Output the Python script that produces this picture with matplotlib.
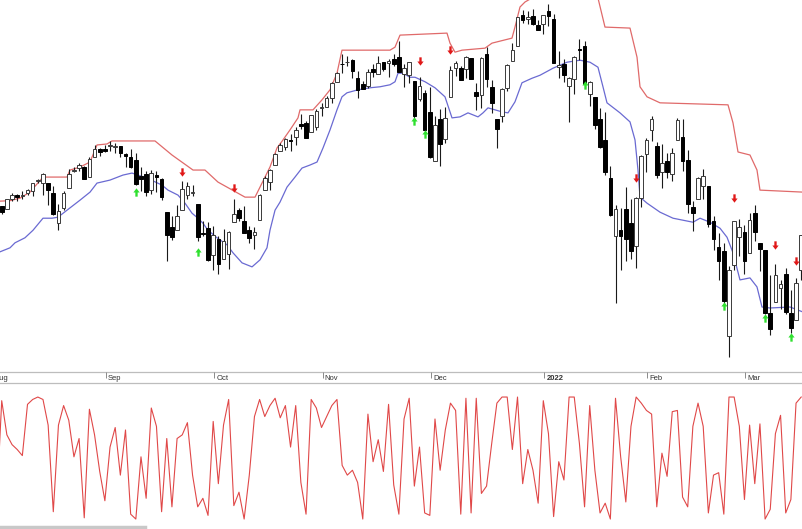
import numpy as np
import pandas as pd
import matplotlib
matplotlib.use("Agg")
import matplotlib.pyplot as plt
from matplotlib.path import Path

# trading days, Aug 2 2021 .. Mar 16 2022 (US market holidays removed)
holidays = ["2021-09-06", "2021-11-25", "2021-12-24", "2022-01-17", "2022-02-21"]
dates = pd.bdate_range("2021-08-02", "2022-03-16")
dates = dates[~dates.isin(pd.to_datetime(holidays))]

opens = [
    # Aug
    4406.86, 4392.74, 4415.95, 4408.86, 4429.07, 4437.77, 4435.79, 4442.18, 4446.08, 4464.84, 4461.65,
    4462.12, 4440.94, 4382.44, 4410.56, 4450.29, 4484.40, 4490.45, 4493.75, 4474.10, 4513.76, 4529.75,
    # Sep
    4528.80, 4534.48, 4532.42, 4535.38, 4518.09, 4513.02, 4506.92, 4474.81, 4479.33, 4447.49, 4477.09,
    4469.74, 4402.95, 4374.45, 4367.43, 4406.75, 4438.04, 4442.12, 4419.54, 4362.41, 4370.67,
    # Oct
    4317.16, 4348.84, 4309.87, 4319.57, 4383.73, 4406.51, 4385.44, 4368.31, 4358.01, 4386.75, 4447.69,
    4463.72, 4497.34, 4524.42, 4532.24, 4546.12, 4553.69, 4578.69, 4580.22, 4562.84, 4572.87,
    # Nov
    4610.62, 4613.34, 4630.65, 4662.93, 4699.26, 4701.48, 4707.25, 4670.26, 4659.39, 4655.24, 4689.30,
    4679.42, 4701.50, 4700.72, 4708.44, 4712.00, 4678.48, 4675.78, 4664.63, 4628.75, 4640.25,
    # Dec
    4602.82, 4504.73, 4589.49, 4548.37, 4631.97, 4690.86, 4691.00, 4687.64, 4710.30, 4642.99, 4636.46,
    4719.13, 4652.50, 4587.90, 4594.96, 4650.36, 4703.96, 4733.99, 4795.49, 4788.64, 4794.23, 4775.21,
    # Jan
    4778.14, 4804.51, 4787.99, 4693.39, 4697.66, 4655.34, 4669.14, 4728.59, 4733.56, 4637.99, 4632.24,
    4588.03, 4547.35, 4471.38, 4356.32, 4366.64, 4408.43, 4380.58, 4336.19, 4431.79,
    # Feb
    4519.57, 4566.39, 4535.41, 4482.79, 4505.75, 4480.02, 4547.00, 4553.24, 4506.27, 4412.61, 4429.28,
    4455.75, 4456.06, 4384.57, 4332.74, 4324.93, 4155.77, 4298.38, 4354.17,
    # Mar
    4363.14, 4322.56, 4401.31, 4342.12, 4327.01, 4202.66, 4223.10, 4252.55, 4279.50, 4202.75, 4188.82,
    4288.14,
]
highs = [
    4422.18, 4423.79, 4416.17, 4429.76, 4440.82, 4439.39, 4445.21, 4449.44, 4461.77, 4468.37, 4480.26,
    4462.12, 4454.32, 4418.61, 4444.35, 4489.88, 4492.81, 4501.71, 4495.90, 4513.33, 4537.36, 4531.39,
    4537.11, 4545.85, 4541.45, 4535.38, 4521.79, 4529.90, 4520.47, 4492.99, 4485.68, 4486.87, 4485.87,
    4471.52, 4402.95, 4394.87, 4416.75, 4465.40, 4463.12, 4457.30, 4419.54, 4385.57, 4382.55,
    4375.19, 4355.51, 4369.23, 4365.57, 4429.97, 4412.02, 4415.88, 4374.89, 4372.87, 4439.73, 4475.82,
    4488.75, 4520.40, 4540.87, 4551.44, 4559.67, 4572.62, 4598.53, 4584.57, 4597.55, 4608.08,
    4620.34, 4635.15, 4663.46, 4683.00, 4718.50, 4714.92, 4708.53, 4684.85, 4664.55, 4688.47, 4697.42,
    4714.95, 4701.50, 4708.80, 4717.75, 4743.83, 4699.39, 4702.87, 4664.63, 4672.95, 4646.02,
    4652.94, 4595.46, 4608.03, 4612.60, 4694.04, 4705.06, 4695.26, 4713.57, 4710.30, 4660.47, 4712.60,
    4731.99, 4666.70, 4587.90, 4651.14, 4697.67, 4740.74, 4791.49, 4807.02, 4804.06, 4808.93, 4786.83,
    4796.64, 4818.62, 4797.70, 4725.01, 4707.95, 4673.02, 4714.13, 4748.83, 4744.13, 4665.13, 4632.24,
    4611.55, 4602.11, 4494.52, 4417.35, 4411.01, 4453.23, 4428.74, 4432.72, 4516.89,
    4550.49, 4595.31, 4542.88, 4539.66, 4521.86, 4531.32, 4590.03, 4588.92, 4526.33, 4426.22, 4472.77,
    4489.55, 4456.06, 4394.60, 4362.12, 4341.51, 4294.73, 4385.34, 4388.84,
    4378.45, 4401.48, 4416.78, 4342.12, 4327.01, 4276.94, 4299.40, 4268.28, 4291.01, 4247.57, 4271.05,
    4357.86,
]
lows = [
    4384.81, 4373.00, 4400.23, 4408.86, 4425.82, 4424.74, 4430.03, 4436.42, 4435.96, 4460.82, 4437.66,
    4417.83, 4397.59, 4367.73, 4406.80, 4450.29, 4482.28, 4485.66, 4468.99, 4474.10, 4513.76, 4515.80,
    4522.02, 4524.66, 4521.65, 4513.00, 4493.95, 4492.07, 4457.66, 4445.70, 4435.46, 4438.37, 4443.80,
    4427.76, 4305.91, 4347.96, 4367.43, 4406.75, 4430.27, 4436.19, 4346.33, 4355.08, 4306.24,
    4288.52, 4278.94, 4309.87, 4290.49, 4383.73, 4386.22, 4360.59, 4342.09, 4329.92, 4386.75, 4447.69,
    4447.47, 4496.41, 4524.40, 4526.89, 4524.00, 4537.36, 4569.17, 4551.66, 4562.84, 4567.59,
    4595.06, 4613.34, 4621.19, 4662.59, 4681.32, 4694.39, 4670.87, 4630.86, 4648.31, 4650.77, 4672.86,
    4679.42, 4684.41, 4672.78, 4694.22, 4682.17, 4652.66, 4659.89, 4585.43, 4625.26, 4560.00,
    4510.27, 4504.73, 4495.12, 4540.51, 4631.97, 4674.52, 4665.98, 4670.24, 4667.60, 4606.52, 4611.22,
    4651.89, 4600.22, 4531.10, 4583.16, 4645.53, 4703.96, 4733.99, 4780.04, 4778.08, 4775.33, 4765.75,
    4758.17, 4774.27, 4699.44, 4671.26, 4662.74, 4582.24, 4638.27, 4706.71, 4650.29, 4614.75, 4568.70,
    4530.20, 4477.95, 4395.34, 4222.62, 4287.11, 4304.80, 4309.50, 4292.46, 4414.02,
    4483.53, 4544.32, 4470.39, 4451.50, 4471.47, 4465.40, 4547.00, 4484.31, 4401.41, 4364.84, 4429.28,
    4429.68, 4373.81, 4327.22, 4267.11, 4221.51, 4114.65, 4286.83, 4315.12,
    4279.54, 4322.56, 4345.56, 4284.98, 4199.85, 4157.87, 4223.10, 4209.80, 4200.49, 4161.72, 4187.90,
    4267.66,
]
closes = [
    4387.16, 4423.15, 4402.66, 4429.10, 4436.52, 4432.35, 4436.75, 4447.70, 4460.83, 4468.00, 4479.71,
    4448.08, 4400.27, 4405.80, 4441.67, 4479.53, 4486.23, 4496.19, 4469.91, 4509.37, 4528.79, 4522.68,
    4524.09, 4536.95, 4535.43, 4520.03, 4514.07, 4493.28, 4458.58, 4468.73, 4443.05, 4480.70, 4473.75,
    4432.99, 4357.73, 4354.19, 4395.64, 4448.98, 4455.48, 4443.11, 4352.63, 4359.46, 4307.54,
    4357.04, 4300.46, 4345.72, 4363.55, 4399.76, 4391.34, 4361.19, 4350.65, 4363.80, 4438.26, 4471.37,
    4486.46, 4519.63, 4536.19, 4549.78, 4544.90, 4566.48, 4574.79, 4551.68, 4596.42, 4605.38,
    4613.67, 4630.65, 4660.57, 4680.06, 4697.53, 4701.70, 4685.25, 4646.71, 4649.27, 4682.85, 4682.80,
    4700.90, 4688.67, 4704.54, 4697.96, 4682.94, 4690.70, 4701.46, 4594.62, 4655.27, 4567.00,
    4513.04, 4577.10, 4538.43, 4591.67, 4686.75, 4701.21, 4667.45, 4712.02, 4668.97, 4634.09, 4709.85,
    4668.67, 4620.64, 4568.02, 4649.23, 4696.56, 4725.79, 4791.19, 4786.35, 4793.06, 4778.73, 4766.18,
    4796.56, 4793.54, 4700.58, 4696.05, 4677.03, 4670.29, 4713.07, 4726.35, 4659.03, 4662.85, 4577.11,
    4532.76, 4482.73, 4397.94, 4410.13, 4356.45, 4349.93, 4326.51, 4431.85, 4515.55,
    4546.54, 4589.38, 4477.44, 4500.53, 4483.87, 4521.54, 4587.18, 4504.08, 4418.64, 4401.67, 4471.07,
    4475.01, 4380.26, 4348.87, 4304.76, 4225.50, 4288.70, 4384.65, 4373.94,
    4306.26, 4386.54, 4363.49, 4328.87, 4201.09, 4170.70, 4277.88, 4259.52, 4204.31, 4173.11, 4262.45,
    4357.86,
]

# upper (red) band, vertices as (bar position, level)
upper_x = [1.67, 3.61, 5.54, 7.48, 10.0, 14.66, 15.24, 17.18, 19.12, 20.47, 22.41, 23.38, 31.72, 35.01,
           39.09, 41.41, 43.93, 49.17, 51.11, 54.01, 55.37, 56.53, 57.89, 59.44, 59.83, 62.35, 64.10,
           65.65, 67.0, 67.97, 77.28, 78.25, 79.22, 88.33, 88.91, 89.88, 91.24, 95.7, 97.05, 100.93,
           101.51, 102.48, 103.45, 104.8, 117.6, 118.96, 123.81, 125.17, 125.75, 127.11, 129.63, 142.81,
           143.78, 144.75, 147.07, 148.43, 149.01, 157.35]
upper_y = [4425, 4426, 4431, 4443, 4473, 4473, 4487, 4493, 4503, 4537, 4539, 4545, 4545, 4517,
           4487, 4487, 4463, 4433, 4433, 4493, 4531, 4547, 4567, 4591, 4607, 4607, 4627,
           4647, 4680, 4726, 4726, 4732, 4756, 4760, 4740, 4722, 4726, 4730, 4740, 4750,
           4772, 4812, 4822, 4830, 4830, 4772, 4770, 4712, 4653, 4633, 4621, 4617,
           4581, 4523, 4517, 4487, 4447, 4443]

# lower (blue) line
lower_x = [1.67, 3.61, 4.58, 6.51, 8.07, 10.0, 11.75, 12.91, 14.66, 17.18, 19.12, 20.47, 22.99, 25.51,
           27.26, 28.42, 30.17, 33.07, 34.24, 36.18, 37.53, 38.89, 40.05, 41.02, 41.99, 43.74, 45.68,
           46.84, 48.59, 50.53, 52.08, 53.43, 54.01, 54.99, 55.95, 57.31, 58.86, 60.22, 61.77, 63.13,
           64.29, 65.65, 67.0, 67.97, 68.94, 71.07, 73.4, 75.34, 77.28, 78.25, 78.83, 79.8, 81.16,
           82.13, 84.07, 86.0, 87.94, 89.3, 90.85, 92.4, 94.34, 95.31, 96.28, 99.0, 100.16, 101.51,
           102.87, 104.81, 106.36, 108.88, 111.6, 114.11, 116.05, 117.6, 118.57, 119.35, 121.87,
           123.81, 124.78, 125.36, 125.75, 127.11, 129.63, 132.15, 134.09, 136.03, 137.38, 139.32,
           141.26, 142.62, 143.78, 145.13, 147.07, 148.43, 149.4, 150.95, 154.83, 157.35]
lower_y = [4324, 4332, 4342, 4352, 4367, 4391, 4391, 4393, 4407, 4427, 4443, 4461, 4467, 4477,
           4481, 4477, 4471, 4457, 4447, 4437, 4421, 4401, 4391, 4381, 4367, 4352, 4338,
           4322, 4302, 4294, 4308, 4332, 4367, 4407, 4423, 4453, 4473, 4491, 4497, 4503,
           4531, 4567, 4607, 4633, 4641, 4647, 4651, 4653, 4657, 4663, 4680, 4680, 4672,
           4672, 4663, 4651, 4633, 4591, 4593, 4601, 4593, 4601, 4611, 4603, 4601, 4623,
           4661, 4670, 4676, 4690, 4702, 4706, 4702, 4692, 4653, 4621, 4601,
           4583, 4547, 4487, 4433, 4421, 4403, 4391, 4387, 4383, 4391, 4383,
           4371, 4353, 4322, 4268, 4272, 4254, 4214, 4212, 4214, 4204]

# signal arrows (bar number, level)
sell_bars = [37, 47, 83, 89, 125, 144, 152, 156]
sell_levels = [4484, 4451, 4704, 4726, 4471, 4431, 4338, 4306]
buy_bars = [28, 40, 82, 84, 115, 142, 150, 155]
buy_levels = [4444, 4324, 4585, 4559, 4656, 4215, 4193, 4154]

# lower pane oscillator
osc = [40, 11, 97, 69, 61, 57, 52, 94, 98, 100, 98, 77, 6, 77, 93, 81, 51, 66, 1, 90, 69, 39, 15, 59,
       75, 36, 73, 4, 0, 51, 17, 91, 76, 6, 66, 10, 66, 69, 79, 36, 10, 17, 3, 80, 29, 77, 98, 11,
       22, 0, 36, 84, 98, 84, 93, 99, 83, 93, 59, 93, 30, 4, 98, 91, 75, 84, 93, 98, 44, 36, 40, 30,
       0, 86, 47, 65, 39, 94, 28, 4, 82, 99, 27, 59, 5, 3, 82, 40, 73, 95, 89, 4, 99, 5, 99, 21, 27,
       62, 95, 100, 100, 57, 100, 29, 57, 40, 13, 97, 70, 2, 47, 32, 100, 100, 62, 10, 93, 40, 5, 13,
       0, 99, 51, 14, 76, 100, 95, 89, 86, 10, 54, 35, 88, 89, 18, 10, 76, 95, 76, 5, 36, 38, 4, 100,
       100, 76, 16, 77, 29, 78, 0, 8, 70, 85, 5, 16, 95, 100]

o = np.array(opens); h = np.array(highs); l = np.array(lows); c = np.array(closes)
n = len(c)
x = np.arange(n)

W, H = 803, 529
fig = plt.figure(figsize=(W / 100, H / 100), dpi=100)
fig.patch.set_facecolor("white")

XL = (1.667, 157.35)

# price pane
ax = fig.add_axes([0, 1 - 370 / H, 1, 370 / H])
ax.set_xlim(*XL)
ax.set_ylim(4088.4, 4826)
ax.axis("off")

ax.vlines(x, l, h, color="#1a1a1a", lw=0.8, zorder=2)
up = c >= o
bottom = np.minimum(o, c)
height = np.maximum(np.abs(c - o), 1.2)
ax.bar(x[up], height[up], bottom=bottom[up], width=0.7, facecolor="white",
       edgecolor="#3a3a3a", linewidth=0.7, zorder=3)
ax.bar(x[~up], height[~up], bottom=bottom[~up], width=0.7, facecolor="black",
       edgecolor="black", linewidth=0.7, zorder=3)

ax.plot(upper_x, upper_y, color="#e06a6a", lw=0.9, zorder=1)
ax.plot(lower_x, lower_y, color="#6a6ad2", lw=0.9, zorder=1)

up_arrow = Path([(-0.28, -1), (0.28, -1), (0.28, 0), (0.75, 0), (0, 1), (-0.75, 0), (-0.28, 0), (-0.28, -1)],
                [Path.MOVETO] + [Path.LINETO] * 6 + [Path.CLOSEPOLY])
dn_arrow = Path([(vx, -vy) for vx, vy in up_arrow.vertices], up_arrow.codes)
ax.plot(sell_bars, sell_levels, linestyle="none", marker=dn_arrow, markersize=6,
        color="#e01818", markeredgewidth=0, zorder=4)
ax.plot(buy_bars, buy_levels, linestyle="none", marker=up_arrow, markersize=6,
        color="#2fe02f", markeredgewidth=0, zorder=4)

# date strip
axd = fig.add_axes([0, 1 - 386 / H, 1, 16 / H])
axd.set_xlim(*XL)
axd.set_ylim(16, 0)
axd.axis("off")
axd.axhline(2, color="#bdbdbd", lw=0.9)
axd.axhline(13, color="#bdbdbd", lw=0.9)
month_start = np.r_[0, np.flatnonzero(dates.month[1:] != dates.month[:-1]) + 1]
for i in month_start:
    d = dates[i]
    lab = str(d.year) if d.month == 1 else d.strftime("%b")
    axd.vlines(i + 0.2, 2, 8, color="#8a8a8a", lw=0.7)
    axd.text(i + 0.6, 8.2, lab, fontsize=5.5, family="Liberation Sans", color="#333333",
             ha="left", va="center", fontweight="bold" if d.month == 1 else "normal")

# oscillator pane
axo = fig.add_axes([0, 3 / H, 1, 138 / H])
axo.set_xlim(*XL)
axo.set_ylim(-5.7, 107.4)
axo.axis("off")
axo.plot(x, osc, color="#e04848", lw=0.8)

# bottom scroll strip
fig.add_artist(plt.Line2D([0, 145 / W], [2 / H, 2 / H], color="#c8c8c8", lw=2.5))

fig.savefig("out.png", dpi=100, facecolor="white")
